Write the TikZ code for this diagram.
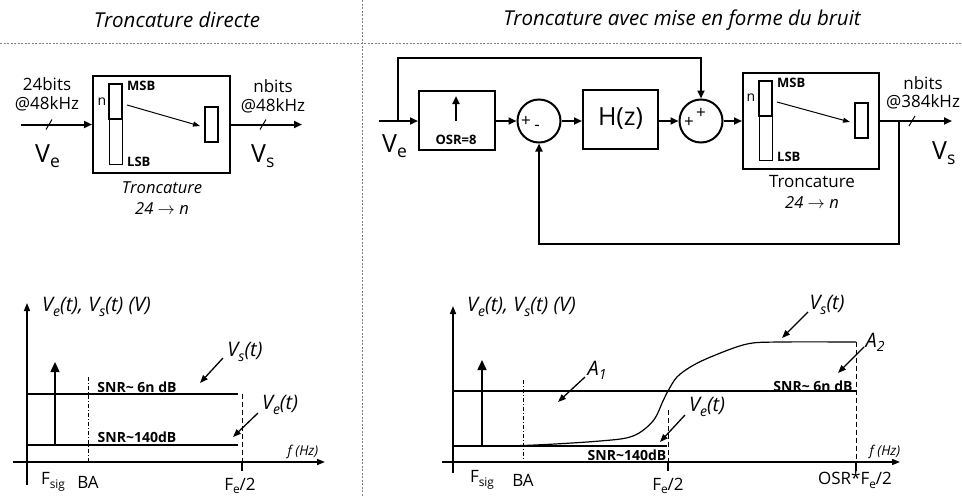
\documentclass[tikz,border=0pt]{standalone}
\usepackage{fontspec}
\setmainfont{Open Sans}
\usetikzlibrary{arrows.meta}
\newcommand{\dsub}[1]{\raisebox{-0.4ex}{\scalebox{0.7}{#1}}}
\begin{document}
\begin{tikzpicture}[x=1pt,y=-1pt,
  sig/.style={line width=2pt,-{Triangle[length=8pt,width=7pt]}},
  wire/.style={line width=2pt},
  blk/.style={draw,line width=2pt,inner sep=0pt},
  sumc/.style={draw,circle,line width=2pt,minimum size=43pt,inner sep=0pt},
  thinarr/.style={line width=1pt,-{Triangle[length=7pt,width=5pt]}},
  lblarr/.style={line width=1.3pt,-{Triangle[length=8pt,width=6pt]}},
  axisarr/.style={line width=1.5pt,-{Triangle[length=8pt,width=6pt]}},
  sep/.style={gray,line width=0.7pt,dash pattern=on 2pt off 1.5pt},
  t/.style={inner sep=0pt,font=\fontsize{17}{19}\selectfont},
  ti/.style={inner sep=0pt,font=\fontsize{16.5}{18}\selectfont\itshape},
  ttl/.style={inner sep=0pt,font=\fontsize{20.5}{23}\selectfont\itshape},
  big/.style={inner sep=0pt,font=\fontsize{25}{28}\selectfont},
  sm/.style={inner sep=0pt,font=\fontsize{13}{15}\selectfont\bfseries},
  snr/.style={inner sep=0pt,font=\fontsize{14}{16}\selectfont\bfseries},
  ax/.style={inner sep=0pt,font=\fontsize{20}{22}\selectfont\itshape},
  fz/.style={inner sep=0pt,font=\fontsize{13.5}{15}\selectfont\itshape},
  pm/.style={inner sep=0pt,font=\fontsize{17}{19}\selectfont},
  plotl/.style={line width=1.2pt},
  fdash/.style={line width=1pt,dash pattern=on 5pt off 3pt},
  badash/.style={line width=1pt,dash pattern=on 4pt off 2pt on 1pt off 2pt}
]
\useasboundingbox (0,0) rectangle (962,496);
% separators
\draw[sep] (0,43) -- (962,43);
\draw[sep] (362,0) -- (362,496);
\node[ttl] (title1) at (177,20) {Troncature directe};
\node[ttl] (title2) at (682,20) {Troncature avec mise en forme du bruit};

% ---------- top left ----------
\node[blk,minimum width=137pt,minimum height=97pt] (tL) at (161.5,124.5) {};
\coordinate (inL) at (21,124.5);
\coordinate (outL) at (302,124.5);
\draw[sig] (inL) -- (tL.west);
\draw[sig] (tL.east) -- (outL);
\draw[line width=1pt] (46,129.5) -- (52,119.5);
\draw[line width=1pt] (260,129.5) -- (266,119.5);
\node[t] (b24) at (47,84) {24bits};
\node[t] (f48a) at (47,104) {@48kHz};
\node[big,anchor=base west] (VeL) at (35,162) {V\dsub{e}};
\node[t] (nbL) at (273,86) {nbits};
\node[t] (f48b) at (273,106) {@48kHz};
\node[big,anchor=base west] (VsL) at (251,162) {V\dsub{s}};
\draw[line width=1pt] (109,84) rectangle (122,164);
\draw[line width=2pt] (109,84) rectangle (122,119);
\node[inner sep=0pt,font=\fontsize{14}{16}\selectfont] (nL) at (102,102) {n};
\node[sm,anchor=west] (msbL) at (127,86) {MSB};
\node[sm,anchor=west] (lsbL) at (127,162) {LSB};
\node[blk,minimum width=13pt,minimum height=35pt] (oL) at (211.5,124.5) {};
\coordinate (aL) at (127,105);
\draw[thinarr] (aL) -- (200,126);
\node[ti] (trL) at (162,188) {Troncature};
\node[ti] (trL2) at (162,209) {24 $\rightarrow$ n};

% ---------- top right ----------
\coordinate (inR) at (379,121);
\coordinate (tap1) at (398,121);
\node[blk,minimum width=76pt,minimum height=59pt] (osr) at (457,120) {};
\node[sumc] (s1) at (539,121) {};
\node[blk,minimum width=75pt,minimum height=59pt] (hz) at (620.5,119) {};
\node[sumc] (s2) at (701,121) {};
\node[blk,minimum width=136pt,minimum height=96pt] (tR) at (811,121) {};
\coordinate (outR) at (952,121);
\coordinate (tap2) at (899,121);
\coordinate (topc) at (701,58);
\coordinate (botc) at (899,244);
\draw[sig] (inR) -- (inR -| osr.west);
\draw[sig] (osr.east |- s1) -- (s1.west);
\draw[sig] (s1.east) -- (s1 -| hz.west);
\draw[sig] (s2 -| hz.east) -- (s2.west);
\draw[sig] (s2.east) -- (tR.west);
\draw[sig] (tR.east) -- (outR);
\draw[sig] (tap1) |- (topc) -- (s2.north);
\draw[sig] (tap2) -- (botc) -| (s1.south);
\draw[line width=1pt] (909,126) -- (915,116);
\draw[line width=2pt,-{Triangle[length=8pt,width=7pt]}] (456,121) -- (456,96);
\node[sm] (osrt) at (456,140) {OSR=8};
\node[big,anchor=base west] (VeR) at (382,152) {V\dsub{e}};
\node[pm] (p1) at (526,121) {+};
\node[pm] (m1) at (537,128) {-};
\node[inner sep=0pt,font=\fontsize{25}{28}\selectfont] (hzt) at (620.5,119) {H(z)};
\node[pm] (p2) at (689,122) {+};
\node[pm] (p3) at (701,113) {+};
\draw[line width=1pt] (759,81) rectangle (772,160);
\draw[line width=2pt] (759,81) rectangle (772,116);
\node[inner sep=0pt,font=\fontsize{14}{16}\selectfont] (nR) at (751,98) {n};
\node[sm,anchor=west] (msbR) at (777,83) {MSB};
\node[sm,anchor=west] (lsbR) at (777,157) {LSB};
\node[blk,minimum width=13pt,minimum height=35pt] (oR) at (861.5,120.5) {};
\coordinate (aR) at (777,102);
\draw[thinarr] (aR) -- (850,122);
\node[t] (nbR) at (923,83) {nbits};
\node[t] (f384) at (923,102) {@384kHz};
\node[big,anchor=base west] (VsR) at (932,159) {V\dsub{s}};
\node[t] (trR) at (812,182) {Troncature};
\node[ti] (trR2) at (812,203) {24 $\rightarrow$ n};

% ---------- bottom left ----------
\coordinate (xl0) at (13,462);
\coordinate (xl1) at (325,462);
\coordinate (yl0) at (27,485);
\coordinate (yl1) at (27,303);
\draw[axisarr] (xl0) -- (xl1);
\draw[axisarr] (yl0) -- (yl1);
\draw[line width=1.5pt,-{Triangle[length=10pt,width=9pt]}] (55,445) -- (55,362);
\draw[badash] (88,377) -- (88,462);
\draw[plotl] (27,394) -- (238,394);
\draw[plotl] (27,445) -- (238,445);
\draw[fdash] (242,394) -- (242,462);
\draw[line width=1.5pt] (242,462) -- (242,471);
\node[ax,anchor=west] (axL) at (42,307) {V\dsub{e}(t), V\dsub{s}(t) (V)};
\node[snr] (snrL1) at (137,387) {SNR\textasciitilde{} 6n dB};
\node[snr] (snrL2) at (137,437) {SNR\textasciitilde140dB};
\node[ax] (vsL) at (245,352) {V\dsub{s}(t)};
\draw[lblarr] (223,358) -- (200,383);
\node[ax] (veL) at (280,405) {V\dsub{e}(t)};
\draw[lblarr] (258,413) -- (233,437);
\node[fz] (fzL) at (303,452) {f (Hz)};
\node[t] (fsL) at (53,482) {F\dsub{sig}};
\node[t] (baL) at (88,482) {BA};
\node[t] (feL) at (240,486) {F\dsub{e}/2};

% ---------- bottom right ----------
\coordinate (xr0) at (442,462);
\coordinate (xr1) at (900,462);
\coordinate (yr0) at (453,473);
\coordinate (yr1) at (453,306);
\draw[axisarr] (xr0) -- (xr1);
\draw[axisarr] (yr0) -- (yr1);
\draw[line width=1.5pt,-{Triangle[length=10pt,width=9pt]}] (482,446) -- (482,360);
\draw[badash] (523,380) -- (523,462);
\draw[plotl] (453,391) -- (856,391);
\draw[plotl] (453,446) -- (667,446);
\draw[plotl] plot[smooth,tension=0.55] coordinates {(453,446) (523,445.5) (600,441) (633,436) (653,421) (663,401) (668,391) (677,377) (692,366) (713,356) (747,344) (780,342) (856,342)};
\draw[fdash] (668,410) -- (668,462);
\draw[line width=1.5pt] (668,462) -- (668,471);
\draw[fdash] (856,342) -- (856,462);
\draw[line width=1.5pt] (856,462) -- (856,471);
\node[ax,anchor=west] (axR) at (467,307) {V\dsub{e}(t), V\dsub{s}(t) (V)};
\node[ax] (a1) at (597,370) {A\dsub{1}};
\draw[lblarr] (585,377) -- (558,402);
\node[snr] (snrR2) at (627,455) {SNR\textasciitilde140dB};
\node[ax] (veR) at (707,407) {V\dsub{e}(t)};
\draw[lblarr] (685,415) -- (660,442);
\node[ax] (vsR) at (827,305) {V\dsub{s}(t)};
\draw[lblarr] (808,312) -- (782,338);
\node[ax] (a2) at (875,342) {A\dsub{2}};
\draw[lblarr] (864,347) -- (838,373);
\node[snr] (snrR1) at (813,386) {SNR\textasciitilde{} 6n dB};
\node[fz] (fzR) at (885,452) {f (Hz)};
\node[t] (osrf) at (855,480) {OSR*F\dsub{e}/2};
\node[t] (fsR) at (482,480) {F\dsub{sig}};
\node[t] (baR) at (523,480) {BA};
\node[t] (feR) at (668,486) {F\dsub{e}/2};
\end{tikzpicture}
\end{document}
